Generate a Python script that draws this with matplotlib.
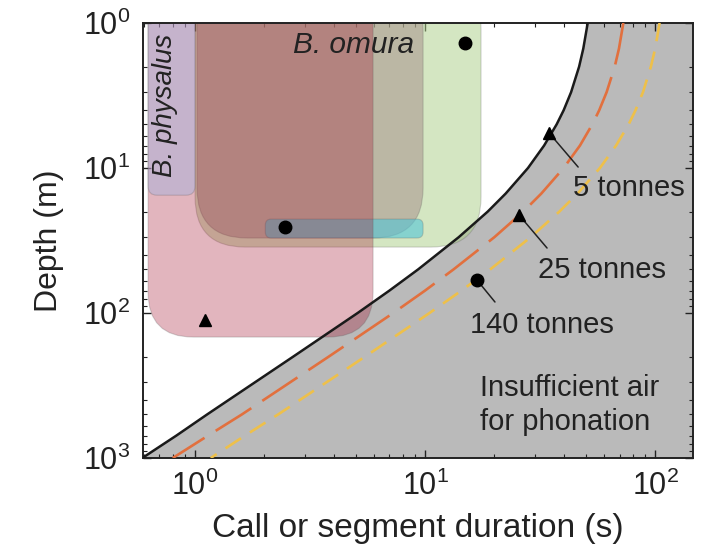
import matplotlib
matplotlib.use('Agg')
import matplotlib.pyplot as plt
from matplotlib.patches import FancyBboxPatch

plt.rcParams['font.family'] = ['Liberation Sans', 'DejaVu Sans']
plt.rcParams['mathtext.fontset'] = 'custom'
plt.rcParams['mathtext.rm'] = 'Liberation Sans'

# limit curves: depth (m) -> longest call (s)
depth = [1, 1.5, 2, 3, 4, 5, 7, 10, 15, 20, 30, 50, 70, 100, 200, 500, 700, 1000]
dur_5t = [50.9, 48.7, 46.7, 43.1, 40.0, 37.3, 32.9, 28.0, 22.4, 18.7, 14.0,
          9.33, 7.0, 5.09, 2.67, 1.13, 0.83, 0.59]
dur_25t = [72.7, 69.6, 66.7, 61.5, 57.1, 53.3, 47.1, 40.0, 32.0, 26.7, 20.0,
           13.3, 10.0, 7.27, 3.81, 1.60, 1.14, 0.80]
dur_140t = [104.5, 100, 95.8, 88.5, 82.1, 76.7, 67.6, 57.5, 46.0, 38.3, 28.75,
            19.2, 14.4, 10.45, 5.48, 2.30, 1.65, 1.17]

# species ranges: duration from/to (s), depth from/to (m)
box_x0 = [1.0, 1.02, 2.02, 0.625, 0.625]
box_x1 = [17.5, 9.8, 9.8, 5.94, 1.0]
box_d0 = [0.5, 0.5, 22.5, 0.5, 0.5]
box_d1 = [35.1, 30.4, 30.4, 146.5, 15.4]
box_col = ['#abcf87', '#a38987', '#53c5d7', '#a20c2a', '#a9b2db']
box_alpha = [0.5, 0.5, 0.6, 0.3, 0.5]
box_rad = [50, 50, 6, 45, 9]   # corner radius in px

# observed calls
dot_dur = [14.9, 2.46]
dot_depth = [1.37, 25.5]
tri_dur = [1.105]
tri_depth = [111.7]

# body size markers on the curves
mass_lab = ['5 tonnes', '25 tonnes', '140 tonnes']
mass_dur = [34.6, 25.6, 16.8]
mass_depth = [5.74, 21.1, 59.2]
mass_mk = ['^', '^', 'o']
line_off = [(29, 34), (28, 33), (18, 22)]     # px, down-right
text_off = [(24, 55), (19, 55), (-7, 45)]

W, H = 705, 550
fig = plt.figure(figsize=(W / 100, H / 100), dpi=100)
ax = fig.add_axes([143 / W, 92 / H, 550 / W, 435 / H])
ax.set_xscale('log')
ax.set_yscale('log')
ax.set_xlim(0.594, 146)
ax.set_ylim(1000, 1)

ax.fill_betweenx(depth, dur_5t, 1000, color='#bababa', lw=0, zorder=1)

# rounded boxes, placed through the data transform
to_ax = ax.transData + ax.transAxes.inverted()
aspect = 550 / 435
for x0, x1, d0, d1, c, a, r in zip(box_x0, box_x1, box_d0, box_d1,
                                   box_col, box_alpha, box_rad):
    (ax0, ay0), (ax1, ay1) = to_ax.transform([(x0, d1), (x1, d0)])
    p = FancyBboxPatch((ax0, ay0), ax1 - ax0, ay1 - ay0,
                       boxstyle='round,pad=0,rounding_size=%f' % (r / 550),
                       mutation_aspect=aspect, transform=ax.transAxes,
                       facecolor=matplotlib.colors.to_rgba(c, a),
                       edgecolor=(0.35, 0.35, 0.35, 0.25), lw=0.8, zorder=2)
    ax.add_patch(p)

ax.plot(dur_5t, depth, color='#1a1a1a', lw=1.8, zorder=3)
ax.plot(dur_25t, depth, color='#e2703e', lw=1.9, dashes=(16, 5), zorder=3)
ax.plot(dur_140t, depth, color='#eec04a', lw=1.9, dashes=(7, 4), zorder=3)

ax.plot(dot_dur, dot_depth, 'o', color='k', ms=9, zorder=5)
ax.plot(tri_dur, tri_depth, '^', color='k', ms=9, zorder=5)

for lab, x, d, m, lo, to in zip(mass_lab, mass_dur, mass_depth, mass_mk,
                                line_off, text_off):
    ax.plot(x, d, m, color='k', ms=9, zorder=5)
    ax.annotate('', xy=(x, d), xytext=(lo[0] * 0.72, -lo[1] * 0.72),
                textcoords='offset points',
                arrowprops=dict(arrowstyle='-', lw=1.1, color='#222222',
                                shrinkA=0, shrinkB=0), zorder=4)
    ax.annotate(lab, xy=(x, d), xytext=(to[0] * 0.72, -to[1] * 0.72),
                textcoords='offset points', ha='left', va='center',
                fontsize=21, color='#222222', zorder=6)

ax.text(17.3, 431, 'Insufficient air\nfor phonation', ha='left', va='center',
        fontsize=21, color='#222222', linespacing=1.25, zorder=6)
ax.text(2.67, 1.42, 'B. omura', style='italic', ha='left', va='center',
        fontsize=21.5, color='#222222', zorder=6)
ax.text(0.741, 3.68, 'B. physalus', style='italic', rotation=90,
        ha='center', va='center', fontsize=20, color='#222222', zorder=6)

ax.set_xlabel('Call or segment duration (s)', fontsize=24, color='#222222',
              labelpad=8)
ax.set_ylabel('Depth (m)', fontsize=23, color='#222222', labelpad=14)
ax.tick_params(which='both', direction='in', top=True, right=True,
               labelsize=22, colors='#222222')
ax.tick_params(which='major', length=6, width=1, pad=9)
ax.tick_params(which='minor', length=3, width=0.8)
for s in ax.spines.values():
    s.set_linewidth(1.4)
    s.set_color('#222222')

fig.savefig('out.png', dpi=100)
